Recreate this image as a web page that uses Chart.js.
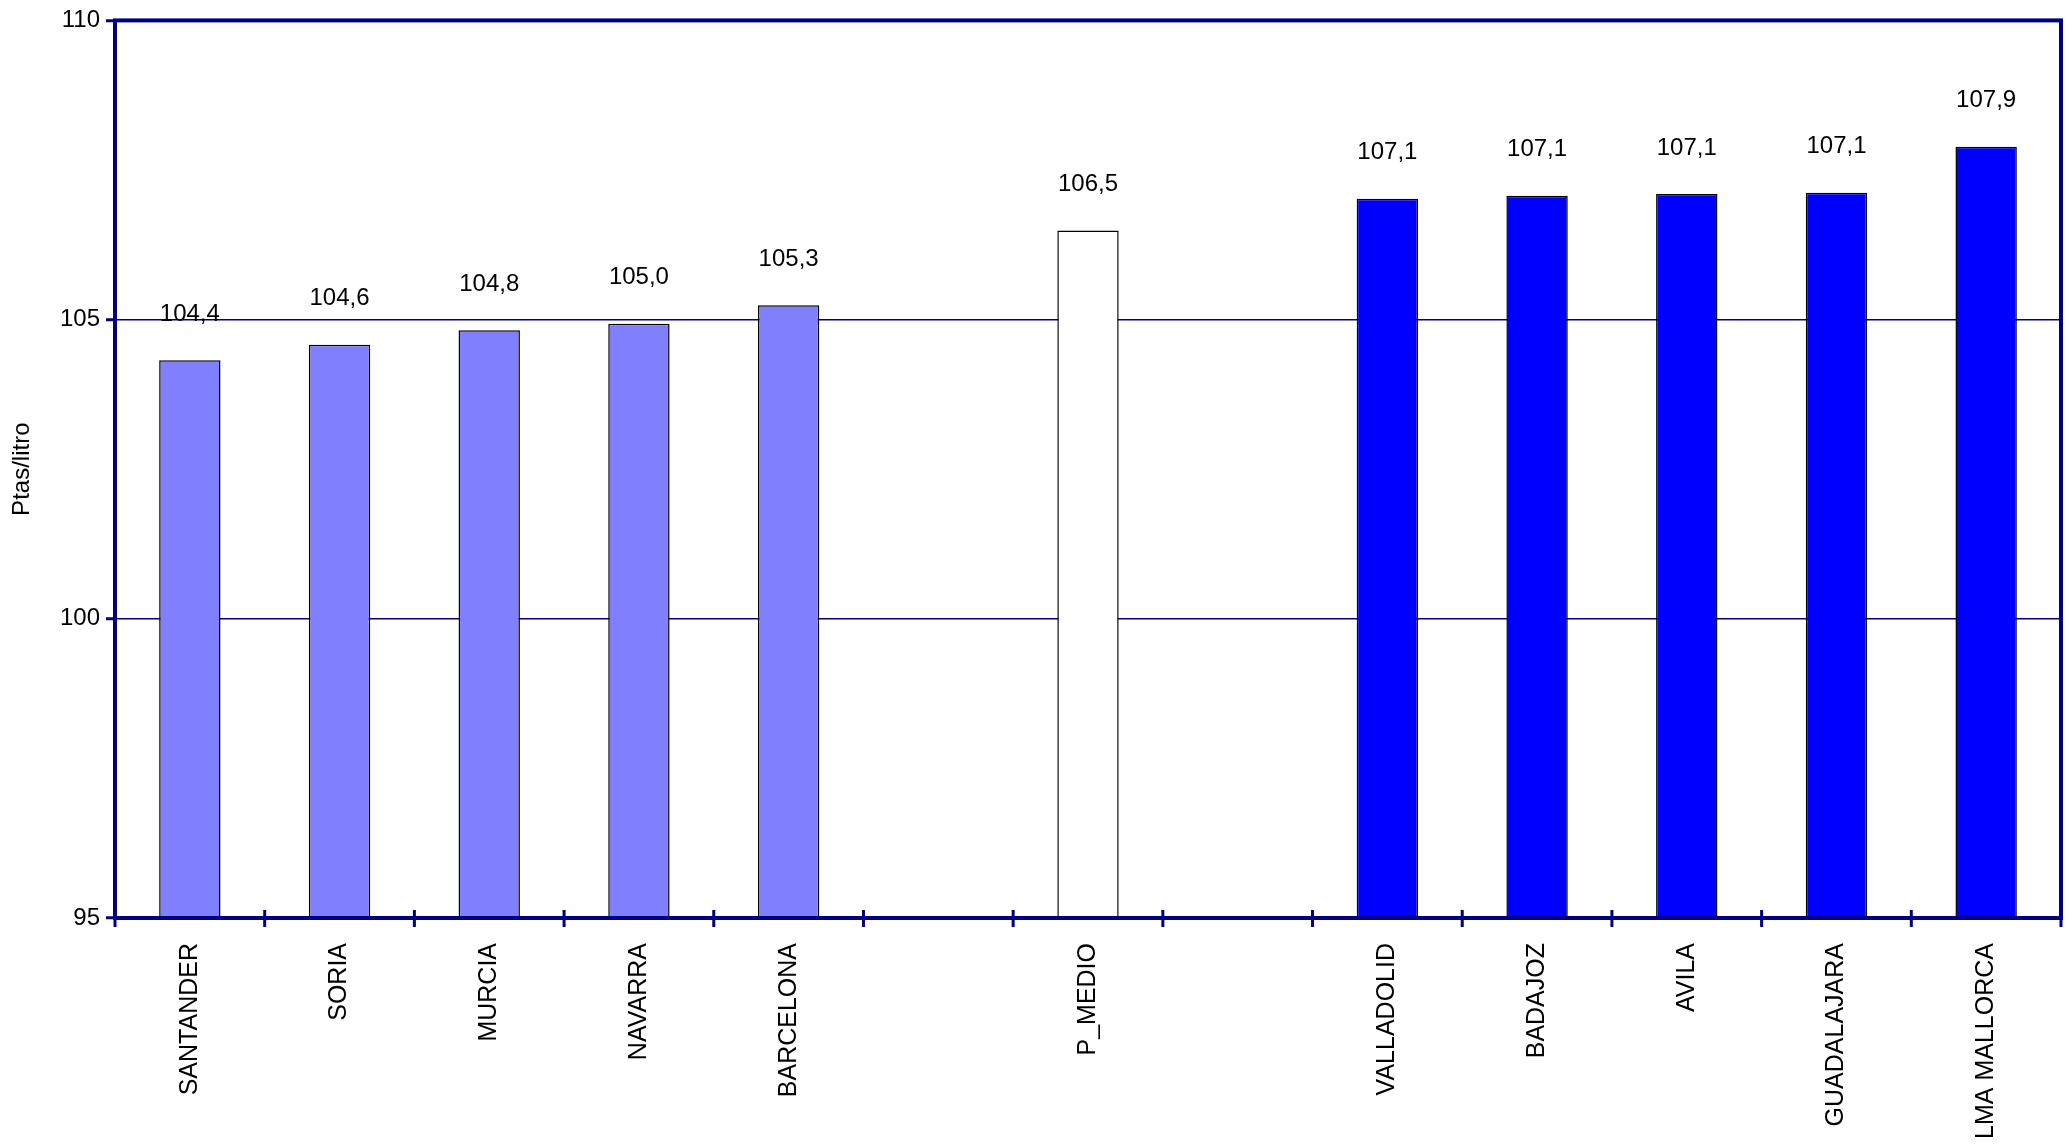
<!DOCTYPE html>
<html>
<head>
<meta charset="utf-8">
<script src="https://cdn.jsdelivr.net/npm/chart.js@4"></script>
<style>
  html, body { margin: 0; padding: 0; background: #fff; }
  #wrap { width: 2069px; height: 1146px; }
</style>
</head>
<body>
<div id="wrap"><canvas id="chart"></canvas></div>
<script>
// ==================== DATA ====================
const provincias = ['SANTANDER', 'SORIA', 'MURCIA', 'NAVARRA', 'BARCELONA', '', 'P_MEDIO', '', 'VALLADOLID', 'BADAJOZ', 'AVILA', 'GUADALAJARA', 'LMA MALLORCA'];
const precios = [104.32, 104.58, 104.82, 104.93, 105.24, null, 106.49, null, 107.02, 107.07, 107.1, 107.12, 107.89];
const etiquetas = ['104,4', '104,6', '104,8', '105,0', '105,3', '', '106,5', '', '107,1', '107,1', '107,1', '107,1', '107,9'];
const grupos = ['bajo', 'bajo', 'bajo', 'bajo', 'bajo', '', 'medio', '', 'alto', 'alto', 'alto', 'alto', 'alto'];
const yTicks = [95, 100, 105, 110];

const colores = { bajo: '#8080FF', medio: '#FFFFFF', alto: '#0000FF', '': '#FFFFFF' };
const NAVY = '#000080';
const FONT = '"Liberation Sans", Arial, sans-serif';

// ==================== PLUGINS ====================
const marco = {
    id: 'marco',
    afterDatasetsDraw(chart) {
        const { ctx, chartArea: a, scales: { x } } = chart;
        ctx.save();
        ctx.strokeStyle = NAVY;
        ctx.lineWidth = 4;
        ctx.strokeRect(a.left, a.top, a.right - a.left, a.bottom - a.top);
        // ticks crossing the category axis at slot boundaries
        const half = (x.getPixelForValue(1) - x.getPixelForValue(0)) / 2;
        ctx.lineWidth = 3;
        ctx.beginPath();
        for (let i = 0; i <= provincias.length; i++) {
            const px = i < provincias.length ? x.getPixelForValue(i) - half : x.getPixelForValue(i - 1) + half;
            ctx.moveTo(px, a.bottom - 8);
            ctx.lineTo(px, a.bottom + 9);
        }
        ctx.stroke();
        ctx.restore();
    }
};

const valores = {
    id: 'valores',
    afterDatasetsDraw(chart) {
        const { ctx } = chart;
        const meta = chart.getDatasetMeta(0);
        ctx.save();
        ctx.font = '24px ' + FONT;
        ctx.fillStyle = '#000';
        ctx.textAlign = 'center';
        ctx.textBaseline = 'middle';
        meta.data.forEach((bar, i) => {
            if (precios[i] === null) return;
            ctx.fillText(etiquetas[i], bar.x, bar.y - 46);
        });
        ctx.restore();
    }
};

// ==================== CHART ====================
const ctx = document.getElementById('chart').getContext('2d');
new Chart(ctx, {
    type: 'bar',
    data: {
        labels: provincias,
        datasets: [{
            data: precios,
            backgroundColor: grupos.map(g => colores[g]),
            borderColor: '#000',
            borderWidth: 1.5,
            categoryPercentage: 1,
            barPercentage: 0.41
        }]
    },
    options: {
        responsive: true,
        maintainAspectRatio: false,
        animation: false,
        layout: { padding: { top: 18, right: 8, left: 0, bottom: 0 } },
        plugins: { legend: { display: false }, tooltip: { enabled: false } },
        scales: {
            x: {
                grid: { display: false },
                border: { display: false },
                ticks: {
                    autoSkip: false,
                    minRotation: 90,
                    maxRotation: 90,
                    padding: 17,
                    color: '#000',
                    font: { family: FONT, size: 25 }
                },
                afterFit(scale) { scale.height = 228; }
            },
            y: {
                min: 95,
                max: 110,
                afterBuildTicks(scale) { scale.ticks = yTicks.map(v => ({ value: v })); },
                grid: { color: NAVY, lineWidth: 1.5, tickLength: 9, drawTicks: true, tickColor: NAVY, tickWidth: 3 },
                border: { display: false },
                ticks: {
                    padding: 6,
                    color: '#000',
                    font: { family: FONT, size: 24 }
                },
                title: {
                    display: true,
                    text: 'Ptas/litro',
                    color: '#000',
                    padding: { top: 8, bottom: 4 },
                    font: { family: FONT, size: 24 }
                },
                afterFit(scale) { scale.width = 115; }
            }
        }
    },
    plugins: [marco, valores]
});
</script>
</body>
</html>
